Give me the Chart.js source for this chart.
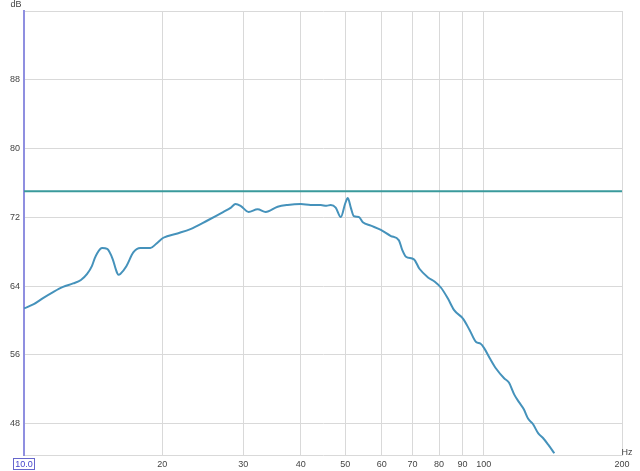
<!DOCTYPE html>
<html><head><meta charset="utf-8">
<script src="https://cdn.jsdelivr.net/npm/chart.js@4"></script>
<style>html,body{margin:0;padding:0;background:#fff}#w{width:640px;height:471px}</style>
</head><body><div id="w"><canvas id="c"></canvas></div>
<script>
const freqs = [10,10.5,11,11.57,12.16,12.79,13.3,13.72,14.05,14.25,14.43,14.65,14.8,15.17,15.6,15.85,15.95,16.05,16.2,16.7,17.29,17.91,18.83,19.4,20.1,21.57,23.02,25.07,27.17,28.2,28.85,29.59,30.8,32.23,33.55,35.63,37.46,39.99,42.05,44.21,45.5,46.48,47.66,48.89,50.0,50.64,51.4,52.19,53.51,54.6,56.84,59.76,62.84,65.42,66.5,67.76,70.53,72.5,75.68,78.3,80.79,83.5,86.26,90.25,93.2,96.3,98.5,100.25,103.2,106.5,110.8,113.5,116.6,119.5,122.3,125.0,128.0,131.5,134.5,138.2,142.5];
const spl = [61.4,61.9,62.6,63.3,63.9,64.3,64.7,65.4,66.3,67.2,67.8,68.3,68.4,68.3,67.1,65.9,65.5,65.3,65.4,66.3,67.9,68.4,68.4,68.9,69.6,70.1,70.6,71.6,72.6,73.1,73.5,73.3,72.6,72.9,72.6,73.2,73.4,73.5,73.4,73.4,73.3,73.4,73.1,72.0,73.6,74.2,73.1,72.1,72.0,71.4,71.0,70.5,69.8,69.3,68.2,67.4,67.1,66.0,65.0,64.5,63.8,62.6,61.2,60.2,58.9,57.5,57.3,56.8,55.6,54.4,53.3,52.8,51.4,50.5,49.7,48.6,48.0,46.9,46.4,45.6,44.6];
const targetFreqs = [10,200];
const targetSpl = [75,75];
const xTicks = [10,20,30,40,50,60,70,80,90,100,200];
const yTicks = [48,56,64,72,80,88];

const labelFont = {family:'Arial, "Liberation Sans", sans-serif', size:9};
const overlay = {
  id:'overlay',
  afterDraw(chart){
    const ctx = chart.ctx, x = chart.scales.x, y = chart.scales.y, a = chart.chartArea;
    ctx.save();
    ctx.font = '9px Arial, "Liberation Sans", sans-serif';
    ctx.fillStyle = '#444';
    ctx.textAlign = 'center'; ctx.textBaseline = 'middle';
    ctx.fillText('dB', a.left - 8, a.top - 6);
    ctx.fillText('Hz', x.getPixelForValue(200) + 5, a.bottom - 2);
    const px = x.getPixelForValue(10);
    ctx.strokeStyle = '#6666cc'; ctx.lineWidth = 1;
    ctx.strokeRect(Math.round(px) - 10.5, a.bottom + 3.5, 21, 11);
    ctx.restore();
  }
};

new Chart(document.getElementById('c'), {
  type:'line',
  data:{datasets:[
    {data:targetFreqs.map((f,i)=>({x:f,y:targetSpl[i]})), borderColor:'#3a9a9c', borderWidth:2, pointRadius:0, tension:0},
    {data:freqs.map((f,i)=>({x:f,y:spl[i]})), borderColor:'#4592bb', borderWidth:2, pointRadius:0, cubicInterpolationMode:'monotone'}
  ]},
  plugins:[overlay],
  options:{
    responsive:true, maintainAspectRatio:false, animation:false,
    layout:{padding:{top:11,right:18,left:0,bottom:0}},
    plugins:{legend:{display:false}, tooltip:{enabled:false}},
    scales:{
      x:{type:'logarithmic', min:10, max:200,
        afterBuildTicks(s){ s.ticks = xTicks.map(v=>({value:v})); },
        afterFit(s){ s.height = 16; },
        ticks:{autoSkip:false, maxRotation:0, padding:4, font:labelFont, color:(c)=> c.tick && c.tick.value===10 ? '#4444cc' : '#444',
          callback:(v)=> v===10 ? '10.0' : String(v)},
        grid:{color:'#d9d9d9', lineWidth:1, drawTicks:false},
        border:{display:true, color:'#d9d9d9'}
      },
      x2:{type:'logarithmic', position:'top', min:10, max:200, display:true,
        ticks:{display:false}, grid:{display:false, drawTicks:false}, border:{display:true, color:'#d9d9d9'},
        afterFit(s){ s.height = 0; }
      },
      y:{min:44.4, max:95.9,
        afterBuildTicks(s){ s.ticks = yTicks.map(v=>({value:v})); },
        afterFit(s){ s.width = 24; },
        ticks:{padding:4, font:labelFont, color:'#444'},
        grid:{color:'#d9d9d9', lineWidth:1, drawTicks:false},
        border:{display:true, color:'#8f8fe0', width:2}
      },
      y2:{position:'right', min:44.4, max:95.9, display:true,
        ticks:{display:false}, grid:{display:false, drawTicks:false}, border:{display:true, color:'#d9d9d9'},
        afterFit(s){ s.width = 0; }
      }
    }
  }
});
</script></body></html>
